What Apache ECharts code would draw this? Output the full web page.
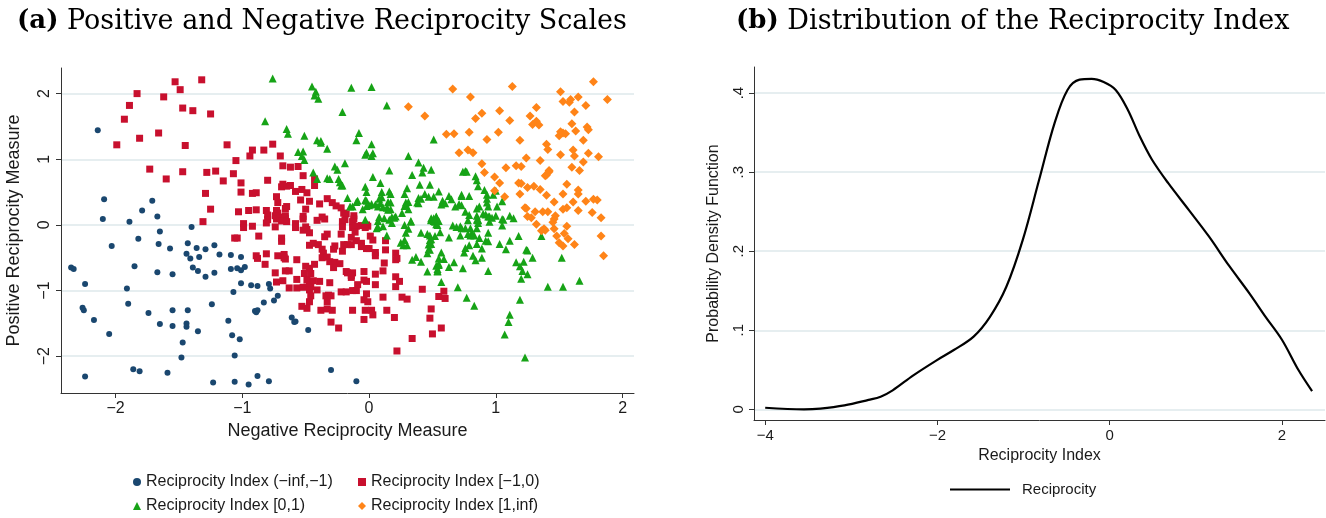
<!DOCTYPE html>
<html>
<head>
<meta charset="utf-8">
<script src="https://cdn.jsdelivr.net/npm/echarts@6/dist/echarts.min.js"></script>
<style>
  html, body { margin: 0; padding: 0; background: #fff; }
  #main { width: 1326px; height: 518px; }
</style>
</head>
<body>
<div id="main"></div>
<script>
// panel (a): [negative measure, positive measure] by reciprocity index group
var groupNames = ['Reciprocity Index (\u2212inf,\u22121)', 'Reciprocity Index [\u22121,0)', 'Reciprocity Index [0,1)', 'Reciprocity Index [1,inf)'];

var ptsLow = [
  [-2.14,1.44],[-2.09,0.39],[-1.71,0.37],[-1.79,0.22],[-2.10,0.09],[-1.89,0.05],[-1.67,0.13],[-1.40,-0.03],
  [-1.65,-0.10],[-1.82,-0.21],[-2.03,-0.32],[-1.66,-0.29],[-1.57,-0.36],[-1.43,-0.28],[-1.36,-0.35],[-1.29,-0.37],
  [-1.22,-0.31],[-1.44,-0.44],[-1.41,-0.51],[-1.34,-0.49],[-1.18,-0.45],[-1.09,-0.46],[-1.01,-0.49],
  [-2.35,-0.65],[-2.33,-0.67],[-1.85,-0.63],[-1.67,-0.72],[-1.55,-0.75],[-1.39,-0.65],[-1.35,-0.70],[-1.29,-0.79],
  [-1.22,-0.73],[-1.09,-0.67],[-1.04,-0.66],[-1.01,-0.69],[-0.98,-0.64],
  [-2.24,-0.90],[-1.91,-0.97],[-1.01,-0.89],[-1.07,-1.02],[-0.93,-0.92],[-0.88,-0.93],
  [-1.90,-1.20],[-1.24,-1.21],[-2.26,-1.26],[-2.25,-1.30],[-1.74,-1.34],[-1.55,-1.30],[-1.43,-1.30],[-0.90,-1.31],
  [-0.89,-1.33],[-0.88,-1.30],[-2.17,-1.45],[-1.65,-1.51],[-1.55,-1.54],[-1.44,-1.50],[-1.44,-1.55],[-1.11,-1.46],
  [-1.35,-1.62],[-2.05,-1.66],[-1.08,-1.68],[-1.02,-1.74],[-1.47,-1.79],[-1.48,-2.02],[-1.06,-1.99],
  [-1.86,-2.20],[-1.81,-2.23],[-1.59,-2.25],[-2.24,-2.31],[-0.88,-2.30],[-1.23,-2.40],[-1.06,-2.39],[-0.95,-2.43],
  [-0.79,-0.90],[-0.78,-0.97],[-0.72,-1.08],[-0.75,-1.15],[-0.83,-1.18],[-0.61,-1.41],[-0.59,-1.48],[-0.58,-1.47],
  [-0.48,-1.60],[-0.30,-2.21],[-0.79,-2.38],[-0.10,-2.38]
];

var ptsMidLow = [
  [-1.53,2.18],[-1.32,2.21],[-1.49,2.06],[-1.83,2.00],[-1.62,1.95],[-1.89,1.82],[-1.47,1.78],[-1.39,1.74],[-1.25,1.69],
  [-1.93,1.61],[-1.66,1.40],[-1.81,1.32],[-1.99,1.22],[-1.45,1.21],[-1.12,1.22],[-0.92,1.14],[-0.94,1.05],[-1.05,0.98],
  [-1.73,0.85],[-1.47,0.81],[-1.28,0.80],[-1.21,0.82],[-1.07,0.78],[-1.60,0.70],[-1.15,0.67],[-1.01,0.64],[-1.29,0.48],
  [-1.01,0.50],[-0.92,0.48],[-0.89,0.49],[-1.25,0.24],[-1.03,0.20],[-0.95,0.22],[-0.89,0.23],[-1.31,0.05],[-0.99,0.02],
  [-0.99,-0.04],[-0.92,-0.02],[-1.06,-0.20],[-1.04,-0.20],[-0.87,-0.17],[-0.89,-0.47],[-0.88,-0.51],
  [-0.76,1.23],[-0.83,1.14],[-0.70,1.05],[-0.68,0.90],[-0.62,0.88],[-0.56,0.89],[-0.52,0.75],[-0.80,0.68],[-0.43,0.70],
  [-0.68,0.62],[-0.69,0.58],[-0.65,0.59],[-0.62,0.60],[-0.43,0.60],[-0.58,0.51],[-0.53,0.54],[-0.49,0.49],[-0.73,0.43],
  [-0.72,0.34],[-0.54,0.38],[-0.47,0.36],[-0.39,0.32],[-0.33,0.40],[-0.29,0.34],[-0.26,0.29],[-0.22,0.26],[-0.81,0.22],
  [-0.73,0.22],[-0.72,0.18],[-0.66,0.25],[-0.65,0.28],[-0.50,0.24],[-0.80,0.15],[-0.74,0.14],[-0.68,0.12],[-0.66,0.14],
  [-0.52,0.13],[-0.20,0.18],[-0.18,0.17],[-0.12,0.14],[-0.80,0.08],[-0.73,0.09],[-0.70,0.11],[-0.66,0.10],[-0.69,0.06],
  [-0.65,0.05],[-0.52,0.09],[-0.41,0.07],[-0.37,0.12],[-0.35,0.09],[-0.21,0.05],[-0.19,0.08],[-0.12,0.09],[-0.06,-0.01],
  [-0.02,0.00],[-0.58,0.02],[-0.50,-0.03],
  [-0.81,0.03],[-0.74,-0.03],[-0.58,-0.04],[-0.52,-0.08],[-0.47,-0.12],[-0.49,-0.07],[-0.35,-0.18],[-0.33,-0.14],
  [-0.22,-0.14],[-0.21,-0.03],[-0.13,0.05],[-0.13,-0.04],[-0.10,-0.02],[-0.11,-0.11],[-0.14,-0.19],[-0.69,-0.20],
  [-0.69,-0.25],[-0.57,-0.53],[-0.47,-0.31],[-0.44,-0.28],[-0.40,-0.30],[-0.37,-0.37],[-0.36,-0.43],[-0.27,-0.32],
  [-0.28,-0.37],[-0.21,-0.40],[-0.20,-0.30],[-0.17,-0.30],[-0.14,-0.30],[-0.10,-0.24],[-0.06,-0.28],[-0.06,-0.33],
  [-0.02,-0.36],[0.00,-0.36],[0.01,-0.17],[0.03,-0.23],[-0.01,-0.02],[-0.03,-0.04],[0.13,-0.24],[0.13,-0.38],
  [0.05,-0.42],[0.05,-0.47],[0.21,-0.43],[0.21,-0.53],[0.22,-0.51],[0.12,-0.58],[0.11,-0.70],
  [-0.81,-0.44],[-0.82,-0.60],[-0.72,-0.47],[-0.67,-0.45],[-0.67,-0.50],[-0.66,-0.52],[-0.50,-0.63],[-0.47,-0.66],
  [-0.46,-0.74],[-0.43,-0.60],[-0.37,-0.50],[-0.33,-0.49],[-0.31,-0.56],[-0.27,-0.57],[-0.23,-0.59],[-0.28,-0.65],
  [-0.18,-0.71],[-0.17,-0.73],[-0.13,-0.73],[-0.14,-0.80],[-0.14,-0.77],[-0.04,-0.71],[-0.04,-0.84],[-0.02,-0.86],
  [-0.09,-0.91],[0.05,-0.75],[0.05,-0.91],[0.21,-0.79],[0.24,-0.86],[0.21,-0.94],
  [-0.74,-0.73],[-0.73,-0.87],[-0.68,-0.85],[-0.66,-0.70],[-0.63,-0.70],[-0.57,-0.83],[-0.51,-0.74],[-0.49,-0.84],
  [-0.47,-0.91],[-0.44,-0.85],[-0.39,-0.86],[-0.31,-0.88],[-0.63,-0.96],[-0.57,-0.96],[-0.52,-0.95],[-0.46,-0.94],
  [-0.47,-0.99],[-0.41,-0.99],[-0.22,-1.02],[-0.18,-1.02],[-0.13,-1.00],[-0.10,-1.00],[-0.02,-1.05],[0.11,-1.10],
  [0.26,-1.10],[0.30,-1.13],[0.42,-0.98],[-0.34,-1.08],[-0.32,-1.07],[-0.30,-1.08],[-0.46,-1.08],[-0.47,-1.17],
  [-0.33,-1.17],[-0.04,-1.14],[-0.01,-1.17],[-0.53,-1.24],[-0.49,-1.27],[-0.38,-1.30],[-0.33,-1.28],[-0.29,-1.30],
  [-0.13,-1.30],[-0.03,-1.30],[0.02,-1.30],[0.03,-1.37],[0.14,-1.30],[-0.04,-1.44],[0.20,-1.41],[0.49,-1.28],
  [0.48,-1.42],[-0.30,-1.48],[-0.24,-1.57],[0.55,-1.09],[0.57,-1.57],[0.50,-1.66],[0.34,-1.73],[0.22,-1.92],
  [0.59,-1.01],[0.60,-1.12]
];

var ptsMidHigh = [
  [-0.76,2.23],[-0.45,2.11],[-0.42,2.03],[-0.43,1.97],[-0.40,1.92],[-0.14,2.09],[0.02,2.10],[0.14,1.82],[-0.82,1.58],
  [-0.21,1.72],[-0.65,1.46],[-0.64,1.39],[-0.51,1.36],[-0.41,1.29],[-0.38,1.28],[-0.38,1.25],[-0.33,1.16],[-0.08,1.40],
  [-0.10,1.29],[0.02,1.23],[0.51,1.30],[-0.56,1.11],[-0.52,1.12],[-0.53,1.05],[-0.51,0.99],[-0.03,1.07],[-0.02,1.10],
  [0.02,1.05],[0.03,1.09],[0.31,1.05],[-0.19,0.94],[-0.27,0.89],[-0.25,0.84],[-0.44,0.80],[-0.33,0.71],[-0.31,0.70],
  [-0.41,0.70],[-0.24,0.70],[-0.23,0.65],[-0.22,0.60],[-0.21,0.60],[0.16,0.83],[0.03,0.73],[0.09,0.64],[0.39,0.95],
  [0.43,0.87],[0.42,0.80],[0.49,0.84],[0.34,0.76],[0.40,0.61],[0.48,0.61],[0.30,0.56],[-0.03,0.58],[-0.02,0.50],
  [-0.02,0.37],[0.10,0.50],[0.16,0.51],[0.17,0.47],[0.28,0.47],[0.44,0.47],[0.51,0.43],[0.55,0.51],[-0.17,0.41],
  [-0.09,0.37],[0.02,0.32],[0.05,0.31],[0.08,0.40],[0.09,0.33],[0.11,0.27],[0.15,0.35],[0.17,0.34],[0.14,0.26],
  [0.17,0.24],[-0.13,0.28],[-0.15,0.28],[-0.05,0.24],[0.29,0.34],[0.31,0.35],[0.31,0.24],[0.29,0.30],[0.39,0.41],
  [0.39,0.33],[0.57,0.31],[0.08,0.12],[0.12,0.10],[0.16,0.08],[0.20,0.11],[0.21,0.13],[-0.03,0.08],[0.28,0.00],
  [0.33,0.06],[0.49,0.10],[0.53,0.13],[0.55,0.06],[0.06,-0.05],[0.11,-0.02],
  [0.74,0.81],[0.76,0.82],[0.77,0.81],[0.84,0.74],[0.85,0.68],[0.86,0.59],[0.91,0.53],[0.93,0.46],[0.98,0.46],
  [0.93,0.40],[0.73,0.46],[0.73,0.44],[0.79,0.44],[0.58,0.37],[0.60,0.33],[0.68,0.28],[0.71,0.32],[0.73,0.30],
  [0.76,0.20],[0.85,0.25],[0.87,0.28],[0.90,0.17],[0.94,0.28],[1.01,0.28],[1.05,0.36],[0.79,0.15],[0.85,0.14],
  [0.86,0.07],[0.86,0.03],[0.92,0.16],[0.94,0.13],[1.00,0.14],[1.05,0.09],[1.11,0.14],[1.14,0.10],[1.05,-0.01],
  [0.66,-0.01],[0.69,-0.03],[0.72,-0.02],[0.76,-0.05],[0.78,-0.14],[0.81,-0.14],[0.83,-0.16],[0.94,-0.12],
  [0.85,-0.29],[0.92,-0.24],[0.94,-0.25],[0.76,-0.35],[0.79,-0.31],[0.75,-0.42],[0.82,-0.47],[0.89,-0.50],
  [0.89,-0.36],[0.84,-0.54],[1.03,-0.29],[1.11,-0.24],[1.18,-0.17],[1.25,-0.39],[1.29,-0.50],[1.16,-0.57],
  [1.22,-0.56],[1.19,-0.63],[1.21,-0.70],[1.25,-0.75],[1.20,-0.82],[1.36,-0.17],[1.52,-0.50],[1.41,-0.94],
  [1.53,-0.94],[1.66,-0.85],[1.19,-1.14],[0.83,-1.23],[0.77,-1.11],[0.70,-0.95],[0.57,-0.87],[0.46,-0.71],
  [0.54,-0.70],[0.53,-0.62],[0.55,-0.59],[0.55,-0.51],[0.63,-0.64],[0.67,-0.57],[0.74,-0.66],[0.94,-0.70],
  [0.34,-0.53],[0.41,-0.56],[0.37,-0.49],[0.46,-0.43],[0.48,-0.38],[0.49,-0.29],[0.48,-0.23],[0.25,-0.27],
  [0.27,-0.31],[0.30,-0.31],[0.28,-0.23],[0.29,-0.12],[0.31,-0.06],[0.41,-0.12],[0.46,-0.14],[0.56,-0.11],
  [0.52,-0.17],[0.63,-0.19],[0.57,-0.42],[0.14,-0.16],[0.07,0.28],[0.10,0.42],[0.00,0.30],[-0.03,0.38],
  [0.15,0.23],[0.18,0.12],[0.18,0.03],[-0.10,0.35],[-0.02,0.29],[0.07,0.06],[0.07,-0.03],[0.26,0.18],
  [0.28,0.29],[0.33,0.05],[0.38,0.34],[0.41,0.40],[0.47,0.43],[0.49,0.08],[0.51,0.06],[0.53,0.01],[0.63,0.44],
  [0.65,0.39],[0.52,0.05],[0.54,0.00],[0.73,-0.05],[0.80,-0.05],[0.85,-0.05],[0.86,0.08],[0.95,0.05],[1.06,0.08],
  [0.48,-0.16],[0.49,-0.22],[0.47,-0.30],[0.47,-0.37],[0.72,-0.16],[0.80,-0.16],[0.82,-0.15],[0.87,-0.20],
  [0.59,-0.52],[0.55,-0.61],[0.54,-0.67],[0.54,-0.71],[1.08,-0.37],[1.24,-0.38],[1.11,-1.37],[1.10,-1.48],
  [1.07,-1.67],[1.23,-2.02],[1.00,0.52],[0.95,0.13],[0.97,0.11],[0.93,0.34],[0.85,0.08],[0.78,0.07],[0.49,0.07],
  [0.51,0.10],[0.53,0.12]
];

var ptsHigh = [
  [0.66,2.07],[0.80,1.95],[1.13,2.11],[1.77,2.18],[1.51,2.03],[1.53,1.88],[1.58,1.87],[1.59,1.91],[1.65,1.95],
  [1.71,1.82],[1.88,1.91],[0.44,1.66],[0.31,1.80],[0.84,1.62],[0.89,1.70],[1.03,1.74],[1.11,1.59],[1.27,1.66],
  [1.32,1.79],[1.29,1.53],[1.32,1.58],[1.34,1.52],[1.62,1.72],[1.60,1.54],[1.72,1.49],[1.73,1.45],[1.63,1.43],
  [0.61,1.38],[0.67,1.39],[0.79,1.41],[1.02,1.41],[0.93,1.30],[1.19,1.29],[1.50,1.36],[1.51,1.42],[1.53,1.40],
  [1.55,1.39],[1.69,1.29],[1.40,1.23],[1.41,1.15],[0.71,1.10],[0.78,1.14],[0.82,1.10],[1.61,1.14],[1.62,1.05],
  [1.73,1.09],[1.81,1.04],[1.51,1.07],[1.24,1.02],[1.35,0.98],[1.69,0.96],[0.89,0.93],[1.08,0.87],[1.16,0.90],
  [1.20,0.89],[1.60,0.88],[1.66,0.83],[0.91,0.80],[1.42,0.83],[1.42,0.81],[1.40,0.76],[1.39,0.75],[0.99,0.73],
  [1.03,0.64],[1.18,0.64],[1.20,0.63],[1.56,0.62],[1.25,0.57],[1.30,0.59],[1.35,0.54],[1.65,0.53],[1.65,0.47],
  [0.99,0.52],[1.07,0.43],[1.19,0.47],[1.40,0.45],[1.53,0.47],[1.46,0.35],[1.61,0.35],[1.71,0.36],[1.77,0.39],
  [1.80,0.38],[1.23,0.26],[1.24,0.25],[1.28,0.11],[1.31,0.20],[1.37,0.20],[1.41,0.20],[1.46,0.09],[1.53,0.24],
  [1.56,0.26],[1.65,0.22],[1.76,0.19],[1.32,0.01],[1.38,-0.06],[1.46,-0.06],[1.56,-0.02],[1.47,0.14],[1.45,0.04],
  [1.83,0.11],[1.25,0.13],[1.36,-0.09],[1.39,-0.08],[1.48,-0.17],[1.54,-0.13],[1.50,-0.27],[1.53,-0.32],
  [1.57,-0.21],[1.62,-0.30],[1.83,-0.17],[1.85,-0.47]
];

var ticksA = [-2, -1, 0, 1, 2];

// panel (b): kernel density of the reciprocity index
var densX = [-4.0,-3.55,-3.36,-3.08,-2.80,-2.66,-2.52,-2.28,-2.01,-1.81,-1.58,-1.39,-1.20,-1.01,-0.82,-0.64,-0.49,
  -0.35,-0.21,-0.07,0.07,0.21,0.35,0.49,0.68,0.92,1.15,1.39,1.62,1.81,2.00,2.19,2.35];
var densY = [0.002,0.000,0.001,0.005,0.012,0.016,0.024,0.043,0.062,0.075,0.092,0.117,0.155,0.214,0.290,0.362,0.404,
  0.417,0.418,0.414,0.404,0.379,0.345,0.316,0.286,0.252,0.219,0.181,0.147,0.117,0.088,0.050,0.023];
var ticksBx = [-4, -2, 0, 2];
var ticksBy = [0, 0.1, 0.2, 0.3, 0.4];

var colors = ['#1a476f', '#c8102e', '#16a316', '#ff8418'];
var symbols = ['circle', 'rect', 'triangle', 'diamond'];
var sizes = [6, 7, 8, 9];

var sans = 'Liberation Sans, Arial, sans-serif';
var serif = 'DejaVu Serif, serif';
var ink = '#1a1a1a';
var gridColor = '#e6eef0';

function minus(v) { return String(v).replace('-', '\u2212'); }

function makeAxis(o) {
  return {
    type: 'value',
    gridIndex: o.grid,
    min: o.min,
    max: o.max,
    name: o.name,
    nameLocation: 'middle',
    nameGap: o.nameGap,
    nameRotate: o.rot ? 90 : 0,
    nameTextStyle: { fontFamily: sans, fontSize: o.nameSize, color: ink },
    axisLine: { show: true, onZero: false, lineStyle: { color: '#333', width: 1 } },
    axisTick: { show: true, length: 5, customValues: o.ticks, lineStyle: { color: '#333' } },
    axisLabel: {
      customValues: o.ticks,
      rotate: o.rot ? 90 : 0,
      margin: o.margin,
      fontFamily: sans, fontSize: o.labelSize, color: ink,
      formatter: o.fmt || minus
    },
    splitLine: { show: !!o.split, lineStyle: { color: gridColor, width: 2 } }
  };
}

// one legend per scatter group so the two columns line up like the original
function groupLegend(i, left, top) {
  return {
    data: [groupNames[i]],
    left: left, top: top, padding: 0,
    itemWidth: 8, itemHeight: 8,
    textStyle: { fontFamily: sans, fontSize: 16, color: ink, lineHeight: 16 }
  };
}

var chart = echarts.init(document.getElementById('main'), null, { renderer: 'canvas' });

var series = [];
for (var i = 0; i < 4; i++) {
  series.push({
    name: groupNames[i],
    type: 'scatter',
    xAxisIndex: 0, yAxisIndex: 0,
    symbol: symbols[i],
    symbolSize: sizes[i],
    itemStyle: { color: colors[i], opacity: 1 },
    data: [ptsLow, ptsMidLow, ptsMidHigh, ptsHigh][i]
  });
}
series.push({
  name: 'Reciprocity',
  type: 'line',
  xAxisIndex: 1, yAxisIndex: 1,
  smooth: 0.35,
  symbol: 'none',
  lineStyle: { color: '#000', width: 2.2 },
  itemStyle: { color: '#000' },
  data: densX.map(function (x, k) { return [x, densY[k]]; })
});

var titleStyle = { fontFamily: serif, fontSize: 27, fontWeight: 'normal', color: '#000',
  rich: { b: { fontFamily: serif, fontSize: 26, fontWeight: 'bold', color: '#000' } } };

var option = {
  backgroundColor: '#fff',
  animation: false,
  title: [
    { left: 17, top: 8, padding: 0, text: '{b|(a)} Positive and Negative Reciprocity Scales', textStyle: titleStyle },
    { left: 736, top: 8, padding: 0, text: '{b|(b)} Distribution of the Reciprocity Index', textStyle: titleStyle }
  ],
  legend: [
    groupLegend(0, 133, 474),
    groupLegend(1, 358, 474),
    groupLegend(2, 133, 498),
    groupLegend(3, 358, 498),
    {
      data: [{ name: 'Reciprocity', icon: 'rect' }],
      left: 950, top: 482, padding: 0,
      itemWidth: 60, itemHeight: 2,
      textStyle: { fontFamily: sans, fontSize: 15, color: ink, padding: [0, 0, 0, 7] }
    }
  ],
  grid: [
    { left: 61, top: 68, width: 573, height: 325, outerBoundsMode: 'none', containLabel: false },
    { left: 754, top: 67, width: 571, height: 353, outerBoundsMode: 'none', containLabel: false }
  ],
  xAxis: [
    makeAxis({ grid: 0, min: -2.43, max: 2.09, ticks: ticksA, name: 'Negative Reciprocity Measure',
      nameGap: 29, nameSize: 18, labelSize: 16, margin: 8 }),
    makeAxis({ grid: 1, min: -4.13, max: 2.5, ticks: ticksBx, name: 'Reciprocity Index',
      nameGap: 28, nameSize: 16, labelSize: 15, margin: 8 })
  ],
  yAxis: [
    makeAxis({ grid: 0, min: -2.56, max: 2.39, ticks: ticksA, name: 'Positive Reciprocity Measure',
      nameGap: 38, nameSize: 18, labelSize: 16, margin: 8, rot: true, split: true }),
    makeAxis({ grid: 1, min: -0.0135, max: 0.433, ticks: ticksBy, name: 'Probability Density Function',
      nameGap: 32, nameSize: 16, labelSize: 15, margin: 8, rot: true, split: true,
      fmt: function (v) { return v === 0 ? '0' : String(v).replace('0.', '.'); } })
  ],
  series: series
};

chart.setOption(option);
</script>
</body>
</html>
